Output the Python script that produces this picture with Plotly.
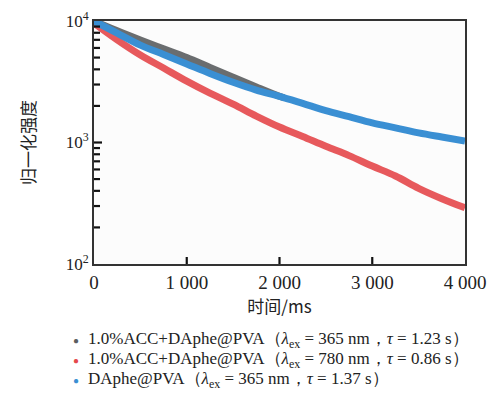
import plotly.graph_objects as go

# time (ms)
t_full = [0, 250, 500, 750, 1000, 1250, 1500, 1750, 2000, 2250, 2500, 2750, 3000, 3250, 3500, 3750, 4000]
t_gray = [0, 250, 500, 750, 1000, 1250, 1500, 1750, 2000, 2050]

gray_vals = [10000, 8300, 6970, 5900, 5000, 4150, 3450, 2870, 2400, 2330]
red_vals = [9600, 7000, 5250, 4100, 3200, 2550, 2070, 1650, 1340, 1120, 930, 780, 640, 530, 420, 345, 290]
blue_vals = [10000, 7950, 6330, 5300, 4430, 3700, 3130, 2700, 2400, 2100, 1830, 1630, 1450, 1320, 1200, 1110, 1030]

names = [
    "1.0%ACC+DAphe@PVA（<i>λ</i><sub>ex</sub> = 365 nm，<i>τ</i> = 1.23 s）",
    "1.0%ACC+DAphe@PVA（<i>λ</i><sub>ex</sub> = 780 nm，<i>τ</i> = 0.86 s）",
    "DAphe@PVA（<i>λ</i><sub>ex</sub> = 365 nm，<i>τ</i> = 1.37 s）",
]
colors = ["#5b5e60", "#e5484b", "#3a8fd3"]

x_tickvals = [0, 1000, 2000, 3000, 4000]
x_ticktext = ["0", "1 000", "2 000", "3 000", "4 000"]
y_tickvals = [100, 1000, 10000]
y_ticktext = ["10<sup>2</sup>", "10<sup>3</sup>", "10<sup>4</sup>"]
y_minor = [200, 300, 400, 500, 600, 700, 800, 900, 2000, 3000, 4000, 5000, 6000, 7000, 8000, 9000]

X_RANGE = [0, 4000]
Y_RANGE_LOG = [2, 4]

W, H = 490, 394
ML, MR, MT, MB = 94, 25, 21, 130
PW, PH = W - ML - MR, H - MT - MB

fig = go.Figure()
fig.add_trace(go.Scatter(x=t_full, y=red_vals, mode="lines", line=dict(color=colors[1], width=7, shape="spline"),
                         opacity=0.9, showlegend=False))
fig.add_trace(go.Scatter(x=t_gray, y=gray_vals, mode="lines", line=dict(color=colors[0], width=7, shape="spline"),
                         opacity=0.9, showlegend=False))
fig.add_trace(go.Scatter(x=t_full, y=blue_vals, mode="lines", line=dict(color=colors[2], width=7, shape="spline"),
                         opacity=1.0, showlegend=False))

serif = "Liberation Serif, 'Times New Roman', serif"

# inward tick marks, drawn through the axes' own scales
xspan = X_RANGE[1] - X_RANGE[0]
tx, ty = [], []
for v in y_tickvals[1:-1]:
    tx += [X_RANGE[0], X_RANGE[0] + 8 / PW * xspan, None]
    ty += [v, v, None]
for v in y_minor:
    tx += [X_RANGE[0], X_RANGE[0] + 6 / PW * xspan, None]
    ty += [v, v, None]
ybot = 10 ** Y_RANGE_LOG[0]
ytop_tick = 10 ** (Y_RANGE_LOG[0] + 7 / PH * (Y_RANGE_LOG[1] - Y_RANGE_LOG[0]))
for v in x_tickvals[1:-1]:
    tx += [v, v, None]
    ty += [ybot, ytop_tick, None]
fig.add_trace(go.Scatter(x=tx, y=ty, mode="lines", line=dict(color="#111", width=2.2),
                         showlegend=False, hoverinfo="skip", cliponaxis=False))

# legend drawn as annotations (dot + label)
leg_rows_px = [340, 360, 380]
for n, c, py in zip(names, colors, leg_rows_px):
    yp = (H - MB - py) / PH
    fig.add_annotation(x=(76 - ML) / PW, y=yp, xref="paper", yref="paper", text="●", showarrow=False,
                       font=dict(size=10, color=c), xanchor="center", yanchor="middle")
    fig.add_annotation(x=(86 - ML) / PW, y=yp, xref="paper", yref="paper", text=n, showarrow=False,
                       font=dict(family=serif, size=17, color="#222"), xanchor="left", yanchor="middle")

fig.update_layout(
    template="simple_white",
    width=W, height=H,
    margin=dict(l=ML, r=MR, t=MT, b=MB, autoexpand=False),
    paper_bgcolor="white", plot_bgcolor="#fcfcfc",
    font=dict(family=serif, size=16, color="#222"),
    showlegend=False,
)
fig.update_xaxes(range=X_RANGE, tickmode="array", tickvals=x_tickvals, ticktext=x_ticktext,
                 ticks="", showline=True, linecolor="#333", linewidth=2, mirror=True,
                 showgrid=False, zeroline=False,
                 title=dict(text="时间/ms", font=dict(family="Noto Sans CJK SC", size=17), standoff=6),
                 tickfont=dict(family=serif, size=19))
fig.update_yaxes(type="log", range=Y_RANGE_LOG, tickmode="array", tickvals=y_tickvals, ticktext=y_ticktext,
                 ticks="", showline=True, linecolor="#333", linewidth=2, mirror=True, showgrid=False,
                 zeroline=False,
                 title=dict(text="归一化强度", font=dict(family="Noto Sans CJK SC", size=17), standoff=26),
                 tickfont=dict(family=serif, size=17))

fig.write_html("out.html")
